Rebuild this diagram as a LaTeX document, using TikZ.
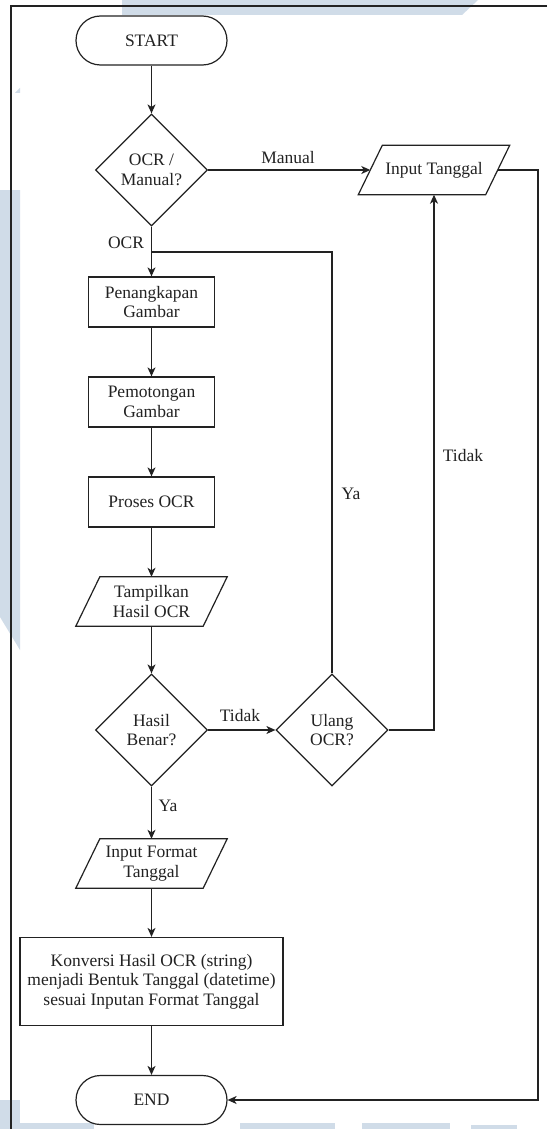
\documentclass[tikz,border=0pt]{standalone}
\usepackage{fontspec}
\setmainfont{Liberation Serif}
\usetikzlibrary{arrows.meta,shapes.geometric,calc}
\definecolor{ink}{RGB}{34,34,34}
\definecolor{paleblue}{RGB}{208,220,232}

% parallelogram outline around a named input/output node
\newcommand{\ioframe}[1]{%
  \draw[line] ($(#1.south west)+(-12,0)$) -- ($(#1.south east)+(-12,0)$)
    -- ($(#1.north east)+(12,0)$) -- ($(#1.north west)+(12,0)$) -- cycle;}

\begin{document}
\begin{tikzpicture}[x=1pt,y=-1pt,
  every node/.style={font=\fontsize{17.5}{19.5}\selectfont, text=ink},
  line/.style={draw=ink, line width=1.2pt},
  flow/.style={line, -{Stealth[length=9pt,width=8pt,inset=2.5pt]}},
  terminal/.style={line, fill=white, rectangle, rounded corners=24.5pt,
    minimum width=151pt, minimum height=49pt, inner sep=0pt},
  process/.style={line, fill=white, rectangle, minimum width=126pt,
    minimum height=50pt, inner sep=0pt, align=center},
  decision/.style={line, fill=white, diamond, minimum width=112pt,
    minimum height=112pt, inner sep=0pt, align=center},
  io/.style={rectangle, minimum width=127pt, minimum height=49pt,
    inner sep=0pt, align=center},
  lbl/.style={inner sep=0pt}
]
\useasboundingbox (0,0) rectangle (547,1129);
\fill[white] (0,0) rectangle (547,1129);

% faint background shapes
\fill[paleblue] (122,0) -- (478,0) -- (462,15) -- (122,15) -- cycle;
\fill[paleblue] (15,93) -- (20,88) -- (20,93) -- cycle;
\fill[paleblue] (0,190) -- (20,190) -- (20,650) -- (0,617) -- cycle;
\fill[paleblue] (0,1100) rectangle (20,1129);
\fill[paleblue] (20,1123) rectangle (94,1129);
\fill[paleblue] (240,1123) rectangle (335,1129);
\fill[paleblue] (362,1123) rectangle (450,1129);
\fill[paleblue] (471,1125) rectangle (517,1129);

% page frame
\draw[line] (547,6) -- (11,6) -- (11,1129);

% nodes
\node[terminal] (start) at (151.5,40.5) {START};
\node[decision] (d1) at (151.5,170) {OCR /\\Manual?};
\node[io] (tgl) at (434,170) {Input Tanggal};
\node[process] (pen) at (151.5,302) {Penangkapan\\Gambar};
\node[process] (pot) at (151.5,402) {Pemotongan\\Gambar};
\node[process] (ocr) at (151.5,502) {Proses OCR};
\node[io] (hsl) at (151.5,601.5) {Tampilkan\\Hasil OCR};
\node[decision] (d2) at (151.5,730) {Hasil\\Benar?};
\node[decision] (d3) at (332,730) {Ulang\\OCR?};
\node[io] (fmt) at (151.5,863.5) {Input Format\\Tanggal};
\node[process, minimum width=263pt, minimum height=88pt] (kon) at (151.5,981.5)
  {Konversi Hasil OCR (string)\\menjadi Bentuk Tanggal (datetime)\\sesuai Inputan Format Tanggal};
\node[terminal] (end) at (151.5,1100) {END};

\ioframe{tgl}
\ioframe{hsl}
\ioframe{fmt}

\coordinate (join) at (151.5,252);
\coordinate (bus) at (538,1100);

% connectors
\draw[flow] (start) -- (d1);
\draw[flow] (d1) -- (tgl);
\draw[flow] (d1) -- (pen);
\draw[flow] (pen) -- (pot);
\draw[flow] (pot) -- (ocr);
\draw[flow] (ocr) -- (hsl);
\draw[flow] (hsl) -- (d2);
\draw[flow] (d2) -- (d3);
\draw[flow] (d2) -- (fmt);
\draw[flow] (fmt) -- (kon);
\draw[flow] (kon) -- (end);
\draw[line] (d3.north) |- (join);
\draw[flow] (d3.east) -| (tgl.south);
\draw[flow] (tgl.east) -| (bus) -- (end.east);

% connector labels
\node[lbl] (lmanual) at (288,158) {Manual};
\node[lbl] (locr) at (126,243) {OCR};
\node[lbl] (ltidak1) at (240,716) {Tidak};
\node[lbl] (lya1) at (168,806) {Ya};
\node[lbl] (lya2) at (351,494) {Ya};
\node[lbl] (ltidak2) at (463,456) {Tidak};
\end{tikzpicture}
\end{document}
